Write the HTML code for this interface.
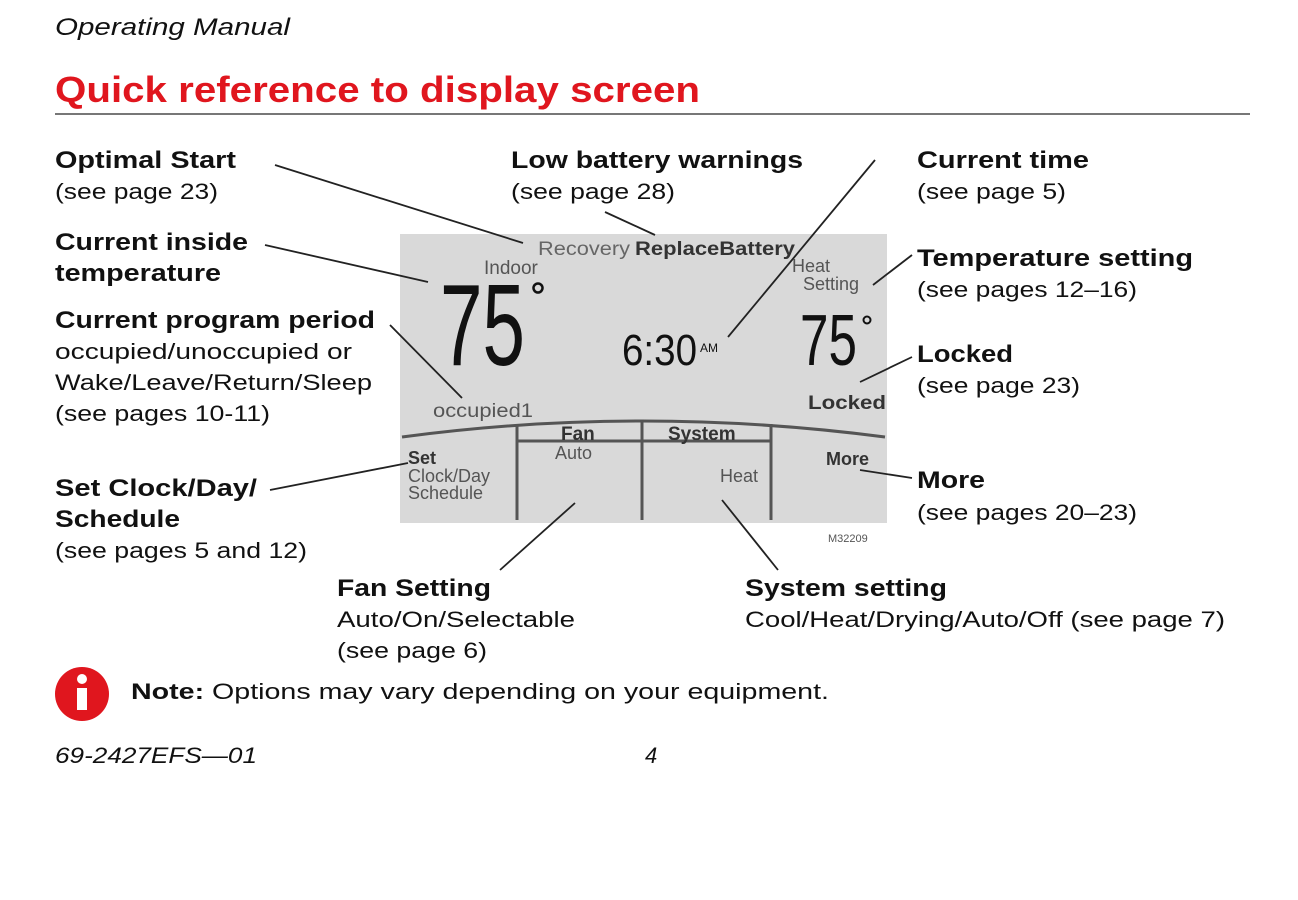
<!DOCTYPE html>
<html><head><meta charset="utf-8"><style>
body{margin:0;width:1298px;height:900px;background:#fff;overflow:hidden}
svg{display:block}
text{font-family:"Liberation Sans",sans-serif;fill:#111}
.b{font-weight:bold;font-size:24px}
.n{font-size:22px}
</style></head><body>
<svg width="1298" height="900" viewBox="0 0 1298 900">
<text x="55" y="35" font-size="24" font-style="italic" textLength="235" lengthAdjust="spacingAndGlyphs">Operating Manual</text>
<text x="55" y="102" font-size="36" font-weight="bold" style="fill:#e0161e" textLength="645" lengthAdjust="spacingAndGlyphs">Quick reference to display screen</text>
<line x1="55" y1="114" x2="1250" y2="114" stroke="#777" stroke-width="2"/>

<rect x="400" y="234" width="487" height="289" fill="#d9d9d9"/>
<g stroke="#222" stroke-width="1.8" fill="none">
<line x1="275" y1="165" x2="523" y2="243"/>
<line x1="605" y1="212" x2="655" y2="235"/>
<line x1="875" y1="160" x2="728" y2="337"/>
<line x1="265" y1="245" x2="428" y2="282"/>
<line x1="912" y1="255" x2="873" y2="285"/>
<line x1="390" y1="325" x2="462" y2="398"/>
<line x1="912" y1="357" x2="860" y2="382"/>
<line x1="270" y1="490" x2="408" y2="463"/>
<line x1="860" y1="470" x2="912" y2="478"/>
<line x1="500" y1="570" x2="575" y2="503"/>
<line x1="778" y1="570" x2="722" y2="500"/>
</g>
<g stroke="#555" stroke-width="3" fill="none">
<path d="M402 437 Q640 405 885 437"/>
<line x1="517" y1="424" x2="517" y2="520"/>
<line x1="642" y1="421" x2="642" y2="520"/>
<line x1="771" y1="424" x2="771" y2="520"/>
<line x1="517" y1="441" x2="771" y2="441"/>
</g>
<g>
<text x="538" y="255" font-size="19" style="fill:#666" textLength="92" lengthAdjust="spacingAndGlyphs">Recovery</text>
<text x="635" y="255" font-size="19" font-weight="bold" style="fill:#333" textLength="160" lengthAdjust="spacingAndGlyphs">ReplaceBattery</text>
<text x="484" y="274" font-size="19" style="fill:#555">Indoor</text>
<text x="792" y="272" font-size="18" style="fill:#555">Heat</text>
<text x="803" y="290" font-size="18" style="fill:#555">Setting</text>
<text x="433" y="417" font-size="19" style="fill:#555" textLength="100" lengthAdjust="spacingAndGlyphs">occupied1</text>
<text x="808" y="409" font-size="19" font-weight="bold" style="fill:#333" textLength="78" lengthAdjust="spacingAndGlyphs">Locked</text>
<text x="561" y="440" font-size="19" font-weight="bold" style="fill:#333">Fan</text>
<text x="668" y="440" font-size="19" font-weight="bold" style="fill:#333">System</text>
<text x="555" y="459" font-size="18" style="fill:#555">Auto</text>
<text x="720" y="482" font-size="18" style="fill:#555">Heat</text>
<text x="826" y="465" font-size="18" font-weight="bold" style="fill:#333">More</text>
<text x="408" y="464" font-size="18" font-weight="bold" style="fill:#333">Set</text>
<text x="408" y="482" font-size="18" style="fill:#555">Clock/Day</text>
<text x="408" y="499" font-size="18" style="fill:#555">Schedule</text>
<text x="828" y="542" font-size="11" style="fill:#555">M32209</text>
</g>
<text x="440" y="365" font-size="116" textLength="85" lengthAdjust="spacingAndGlyphs">75</text>
<circle cx="538" cy="288" r="4.5" fill="none" stroke="#111" stroke-width="2.5"/>
<text x="622" y="365" font-size="44" textLength="75" lengthAdjust="spacingAndGlyphs">6:30</text>
<text x="700" y="352" font-size="12">AM</text>
<text x="800" y="365" font-size="72" textLength="57" lengthAdjust="spacingAndGlyphs">75</text>
<circle cx="867" cy="320" r="3.5" fill="none" stroke="#111" stroke-width="2"/>

<g>
<text x="55" y="168" class="b" textLength="181" lengthAdjust="spacingAndGlyphs">Optimal Start</text>
<text x="55" y="199" class="n" textLength="163" lengthAdjust="spacingAndGlyphs">(see page 23)</text>
<text x="55" y="250" class="b" textLength="193" lengthAdjust="spacingAndGlyphs">Current inside</text>
<text x="55" y="281" class="b" textLength="166" lengthAdjust="spacingAndGlyphs">temperature</text>
<text x="55" y="328" class="b" textLength="320" lengthAdjust="spacingAndGlyphs">Current program period</text>
<text x="55" y="359" class="n" textLength="297" lengthAdjust="spacingAndGlyphs">occupied/unoccupied or</text>
<text x="55" y="390" class="n" textLength="317" lengthAdjust="spacingAndGlyphs">Wake/Leave/Return/Sleep</text>
<text x="55" y="421" class="n" textLength="215" lengthAdjust="spacingAndGlyphs">(see pages 10-11)</text>
<text x="55" y="496" class="b" textLength="202" lengthAdjust="spacingAndGlyphs">Set Clock/Day/</text>
<text x="55" y="527" class="b" textLength="125" lengthAdjust="spacingAndGlyphs">Schedule</text>
<text x="55" y="558" class="n" textLength="252" lengthAdjust="spacingAndGlyphs">(see pages 5 and 12)</text>
<text x="511" y="168" class="b" textLength="292" lengthAdjust="spacingAndGlyphs">Low battery warnings</text>
<text x="511" y="199" class="n" textLength="164" lengthAdjust="spacingAndGlyphs">(see page 28)</text>
<text x="917" y="168" class="b" textLength="172" lengthAdjust="spacingAndGlyphs">Current time</text>
<text x="917" y="199" class="n" textLength="149" lengthAdjust="spacingAndGlyphs">(see page 5)</text>
<text x="917" y="266" class="b" textLength="276" lengthAdjust="spacingAndGlyphs">Temperature setting</text>
<text x="917" y="297" class="n" textLength="220" lengthAdjust="spacingAndGlyphs">(see pages 12–16)</text>
<text x="917" y="362" class="b" textLength="96" lengthAdjust="spacingAndGlyphs">Locked</text>
<text x="917" y="393" class="n" textLength="163" lengthAdjust="spacingAndGlyphs">(see page 23)</text>
<text x="917" y="488" class="b" textLength="68" lengthAdjust="spacingAndGlyphs">More</text>
<text x="917" y="520" class="n" textLength="220" lengthAdjust="spacingAndGlyphs">(see pages 20–23)</text>
<text x="337" y="596" class="b" textLength="154" lengthAdjust="spacingAndGlyphs">Fan Setting</text>
<text x="337" y="627" class="n" textLength="238" lengthAdjust="spacingAndGlyphs">Auto/On/Selectable</text>
<text x="337" y="658" class="n" textLength="150" lengthAdjust="spacingAndGlyphs">(see page 6)</text>
<text x="745" y="596" class="b" textLength="202" lengthAdjust="spacingAndGlyphs">System setting</text>
<text x="745" y="627" class="n" textLength="480" lengthAdjust="spacingAndGlyphs">Cool/Heat/Drying/Auto/Off (see page 7)</text>
</g>

<circle cx="82" cy="694" r="27" fill="#e0161e"/>
<circle cx="82" cy="679" r="5" fill="#fff"/>
<rect x="77" y="688" width="10" height="22" fill="#fff"/>
<text x="131" y="699" class="n" textLength="698" lengthAdjust="spacingAndGlyphs"><tspan font-weight="bold">Note:</tspan> Options may vary depending on your equipment.</text>
<text x="55" y="763" font-size="22" font-style="italic" textLength="202" lengthAdjust="spacingAndGlyphs">69-2427EFS—01</text>
<text x="645" y="763" font-size="22" font-style="italic">4</text>
</svg>
</body></html>
